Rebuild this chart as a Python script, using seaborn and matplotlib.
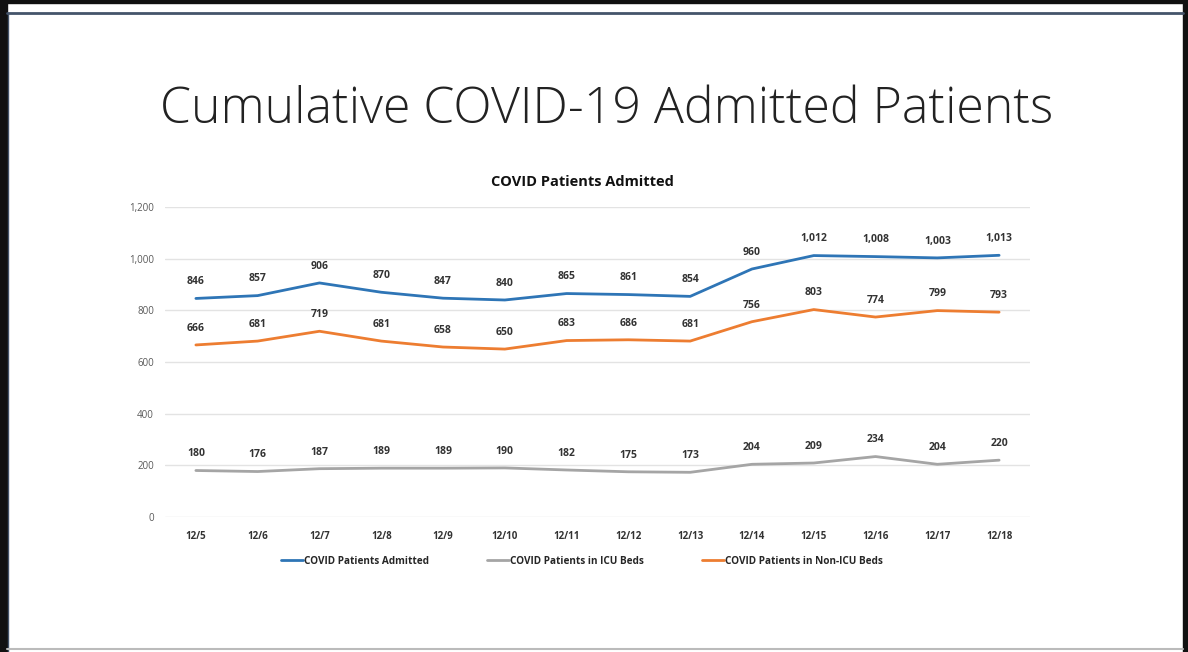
import pandas as pd
import matplotlib
matplotlib.use('Agg')
import matplotlib.pyplot as plt
import seaborn as sns
from matplotlib.patches import Rectangle
from matplotlib.lines import Line2D

# data
dates = ['12/5', '12/6', '12/7', '12/8', '12/9', '12/10', '12/11',
         '12/12', '12/13', '12/14', '12/15', '12/16', '12/17', '12/18']
admitted = [846, 857, 906, 870, 847, 840, 865, 861, 854, 960, 1012, 1008, 1003, 1013]
icu_beds = [180, 176, 187, 189, 189, 190, 182, 175, 173, 204, 209, 234, 204, 220]
non_icu_beds = [666, 681, 719, 681, 658, 650, 683, 686, 681, 756, 803, 774, 799, 793]
series_names = ['COVID Patients Admitted', 'COVID Patients in ICU Beds', 'COVID Patients in Non-ICU Beds']
y_ticks = [0, 200, 400, 600, 800, 1000, 1200]

colors = {series_names[0]: '#2E75B6',
          series_names[1]: '#A5A5A5',
          series_names[2]: '#ED7D31'}

df = pd.DataFrame({'Date': dates * 3,
                   'pos': list(range(len(dates))) * 3,
                   'Patients': admitted + icu_beds + non_icu_beds,
                   'Series': [s for s in series_names for _ in dates]})

sns.set_theme(style='white')
plt.rcParams['font.family'] = ['Open Sans', 'DejaVu Sans']

W, H = 1188, 652
fig = plt.figure(figsize=(W / 100, H / 100), dpi=100)

# slide frame: black on top / left / right, dark blue inner rule, grey bottom
fig.patches.append(Rectangle((0, 0), 7 / W, 1, transform=fig.transFigure, color='#111111'))
fig.patches.append(Rectangle((0, 1 - 3 / H), 1, 3 / H, transform=fig.transFigure, color='#111111'))
fig.patches.append(Rectangle((1183 / W, 0), 5 / W, 1, transform=fig.transFigure, color='#111111'))
fig.lines.append(Line2D([7 / W, 1183 / W], [1 - 13 / H, 1 - 13 / H],
                        transform=fig.transFigure, color='#44546A', linewidth=2))
fig.lines.append(Line2D([8 / W, 8 / W], [0, 1 - 13 / H],
                        transform=fig.transFigure, color='#44546A', linewidth=1))
fig.lines.append(Line2D([7 / W, 1183 / W], [3 / H, 3 / H],
                        transform=fig.transFigure, color='#BBBBBB', linewidth=1.5))

fig.text(607 / W, 1 - 110 / H, 'Cumulative COVID-19 Admitted Patients',
         ha='center', va='center', fontsize=36, color='#222222', fontweight='light')
fig.text(582 / W, 1 - 182 / H, 'COVID Patients Admitted', ha='center', va='center',
         fontsize=10.5, fontweight='bold', color='#111111')

ax = fig.add_axes([165 / W, 1 - 517 / H, 865 / W, 310 / H])
sns.lineplot(data=df, x='pos', y='Patients', hue='Series', palette=colors,
             hue_order=series_names, linewidth=2, ax=ax, legend=False)

# data labels
for name, vals in zip(series_names, [admitted, icu_beds, non_icu_beds]):
    for i, v in enumerate(vals):
        ax.annotate(f'{v:,}', (i, v), xytext=(0, 8), textcoords='offset points',
                    ha='center', va='bottom', fontsize=7.5, fontweight='bold',
                    color='#333333')

ax.set_xlim(-0.5, len(dates) - 0.5)
ax.set_ylim(0, 1200)
ax.set_yticks(y_ticks)
ax.set_yticklabels([f'{t:,}' for t in y_ticks], fontsize=7, color='#595959')
ax.set_xticks(range(len(dates)))
ax.set_xticklabels(dates, fontsize=7, fontweight='bold', color='#333333')
ax.tick_params(axis='both', length=0, pad=10)
ax.tick_params(axis='y', pad=8)
ax.grid(axis='y', color='#E3E3E3', linewidth=1)
for s in ax.spines.values():
    s.set_visible(False)
ax.set_xlabel('')
ax.set_ylabel('')

handles = [Line2D([0], [0], color=colors[n], linewidth=2) for n in series_names]
fig.legend(handles, series_names, loc='center', bbox_to_anchor=(582 / W, 1 - 561 / H),
           ncol=3, frameon=False, handlelength=2.2, handletextpad=0.1,
           columnspacing=5.8, prop={'weight': 'bold', 'size': 7.2})

fig.savefig('out.png', dpi=100)
